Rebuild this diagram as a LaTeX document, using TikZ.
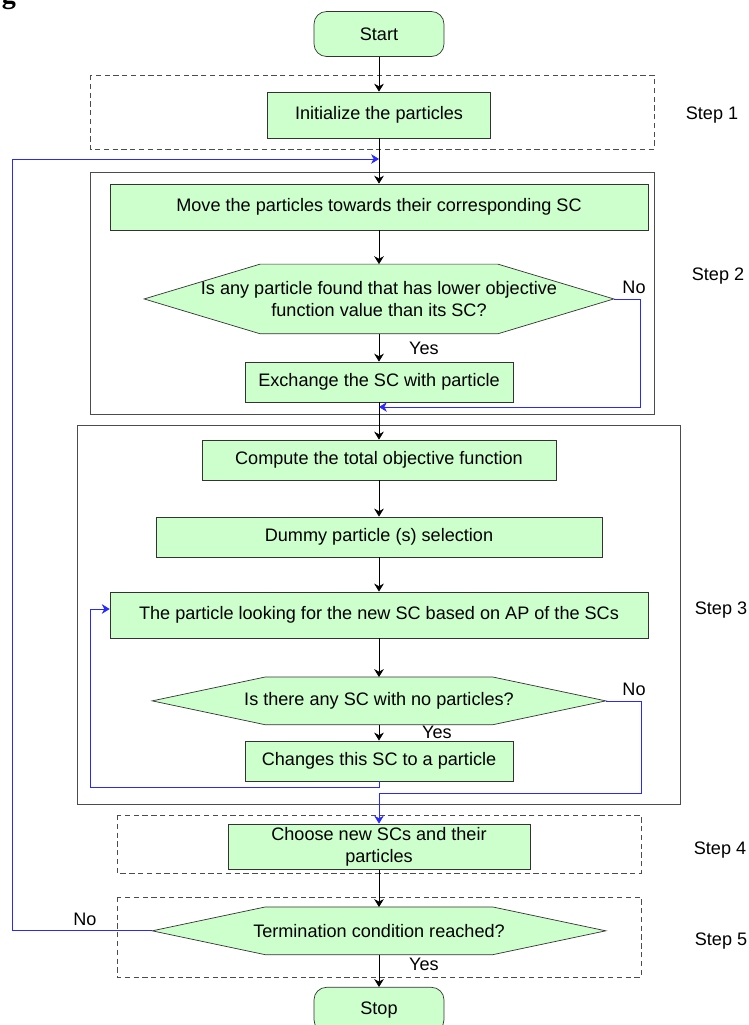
\documentclass[tikz,border=0pt]{standalone}
\usepackage{fontspec}
\setmainfont{Liberation Sans}
\newfontfamily\capfont{Liberation Serif}
\usetikzlibrary{positioning,arrows.meta,backgrounds}
\definecolor{boxgreen}{RGB}{204,255,204}
\definecolor{loopblue}{RGB}{40,40,255}

\begin{document}
\begin{tikzpicture}[->,>={Stealth[length=4.5pt,width=5.5pt]},x=0.02cm,y=-0.02cm,font=\fontsize{10.3}{12.5}\selectfont,
  block/.style={rectangle,draw=black!80,fill=boxgreen,minimum height=0.8cm,inner sep=2pt},
  term node/.style={rectangle,rounded corners=0.25cm,draw=black!80,fill=boxgreen,minimum width=2.6cm,minimum height=0.9cm},
  test node/.style={rectangle,inner sep=0pt,align=center},
  hex line/.style={-,draw=black!80,fill=boxgreen},
  loop line/.style={->,draw=loopblue},
  step frame/.style={-,draw=black!70,densely dashed}]

            \useasboundingbox (0,0) rectangle (749,1025);
            \node[font=\capfont\bfseries\fontsize{16}{16}\selectfont] (fig) at (9,-1) {g};

            % step frames
            \draw[step frame] (90,75) rectangle (654,149);
            \draw[step frame,solid] (90,172) rectangle (654,414);
            \draw[step frame,solid] (77,425) rectangle (680,804);
            \draw[step frame] (117,815) rectangle (641,873);
            \draw[step frame] (117,897) rectangle (641,977);

            \node[term node] (1) at (379,34){Start};
            \node[block, minimum width=4.46cm, minimum height=0.92cm] (2) [node distance=1.62cm, below of = 1]{Initialize the particles};
            \node[block, minimum width=10.76cm, minimum height=0.92cm] (3) [node distance=1.84cm, below of = 2]{Move the particles towards their corresponding SC};
            \node[test node, minimum width=9.38cm, minimum height=1.38cm] (4) [node distance=1.84cm, below of = 3]{Is any particle found that has lower objective\\ function value than its SC?};
            \node[block, minimum width=5.36cm] (5) [node distance=1.66cm, below of = 4]{Exchange the SC with particle};
            \node[block, minimum width=7.08cm] (6) [node distance=1.56cm, below of = 5]{Compute the total objective function};
            \node[block, minimum width=8.92cm] (7) [node distance=1.54cm, below of = 6]{Dummy particle (s) selection};
            \node[block, minimum width=10.76cm, minimum height=0.92cm] (8) [node distance=1.56cm, below of = 7]{The particle looking for the new SC based on AP of the SCs};
            \node[test node, minimum width=9.06cm, minimum height=0.94cm] (9) [node distance=1.72cm, below of = 8]{Is there any SC with no particles?};
            \node[block, minimum width=5.36cm] (10) [node distance=1.2cm, below of = 9]{Changes this SC to a particle};
            \node[block, minimum width=6.04cm, align=center] (11) [node distance=1.72cm, below of = 10]{Choose new SCs and their\\ particles};
            \node[test node, minimum width=9.06cm, minimum height=0.94cm] (12) [node distance=1.68cm, below of = 11]{Termination condition reached?};
            \node[term node] (13) [node distance=1.58cm, below of = 12]{Stop};

            % decision outlines
            \begin{pgfonlayer}{background}
            \draw[hex line] (4.west) -- ([xshift=2.32cm]4.north west) -- ([xshift=-2.32cm]4.north east) -- (4.east) -- ([xshift=-2.32cm]4.south east) -- ([xshift=2.32cm]4.south west) -- cycle;
            \draw[hex line] (9.west) -- ([xshift=2.26cm]9.north west) -- ([xshift=-2.26cm]9.north east) -- (9.east) -- ([xshift=-2.26cm]9.south east) -- ([xshift=2.26cm]9.south west) -- cycle;
            \draw[hex line] (12.west) -- ([xshift=2.26cm]12.north west) -- ([xshift=-2.26cm]12.north east) -- (12.east) -- ([xshift=-2.26cm]12.south east) -- ([xshift=2.26cm]12.south west) -- cycle;
            \end{pgfonlayer}

            \node (s1) at (712,115){Step 1};
            \node (s2) at (718,276){Step 2};
            \node (s3) at (721,610){Step 3};
            \node (s4) at (720,850){Step 4};
            \node (s5) at (721,941){Step 5};

            \node (no1) at (634,287){No};
            \node (yes1) at (424,348){Yes};
            \node (no2) at (634,689){No};
            \node (yes2) at (437,732){Yes};
            \node (no3) at (85,919){No};
            \node (yes3) at (424,964){Yes};

            \coordinate (c1) at (12,159);
            \coordinate (j1) at (379,407);
            \coordinate (c3) at (90,609);
            \coordinate (j2) at (379,793);

            \draw (1) to (2);
            \draw (2) to (3);
            \draw (3) to (4);
            \draw (4) to (5);
            \draw (5) to (6);
            \draw (6) to (7);
            \draw (7) to (8);
            \draw (8) to (9);
            \draw (9) to (10);
            \draw (11) to (12);
            \draw (12) to (13);

            \draw[loop line] (4.east) -- ++(27,0) |- (j1);
            \draw[loop line] (10.south) -- ++(0,6) -| (c3) -- (c3 -| 8.west);
            \draw[loop line] (9.east) -- ++(36,0) |- (j2) -- (11);
            \draw[loop line] (12.west) -| (c1) -- (c1 -| 2.south);

            ;
        \end{tikzpicture}
\end{document}
